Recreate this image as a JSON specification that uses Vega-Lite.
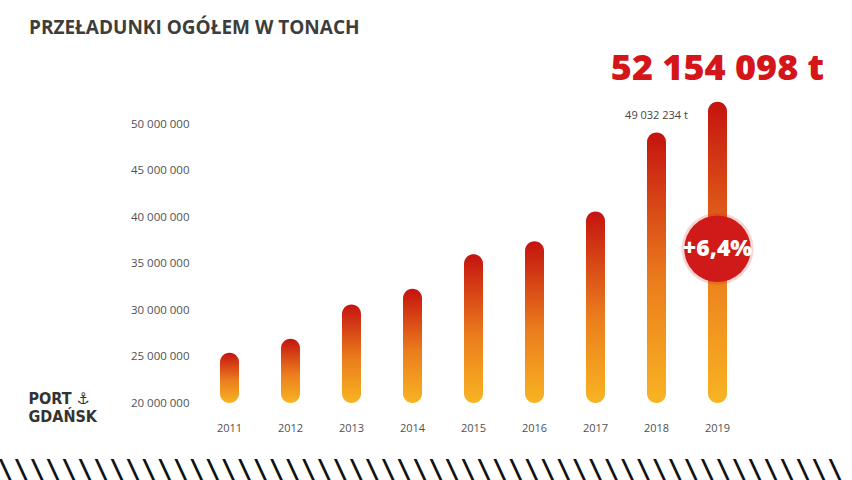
{
  "$schema": "https://vega.github.io/schema/vega-lite/v6.json",
  "width": 549,
  "height": 316,
  "autosize": {"type": "none"},
  "padding": {"left": 199, "top": 87, "right": 104, "bottom": 77},
  "background": "white",
  "config": {
    "view": {"stroke": null},
    "font": "Open Sans",
    "locale": {"number": {"decimal": ",", "thousands": " ", "grouping": [3], "currency": ["", " zł"]}}
  },
  "title": {
    "text": "PRZEŁADUNKI OGÓŁEM W TONACH",
    "anchor": "start",
    "frame": "group",
    "dx": -170,
    "offset": 13,
    "fontSize": 19,
    "fontWeight": "bold",
    "color": "#3d3d3d",
    "font": "Open Sans"
  },
  "data": {
    "values": [
      {"year": "2011", "tons": 25400000, "label": "", "change": ""},
      {"year": "2012", "tons": 26900000, "label": "", "change": ""},
      {"year": "2013", "tons": 30600000, "label": "", "change": ""},
      {"year": "2014", "tons": 32300000, "label": "", "change": ""},
      {"year": "2015", "tons": 36000000, "label": "", "change": ""},
      {"year": "2016", "tons": 37400000, "label": "", "change": ""},
      {"year": "2017", "tons": 40600000, "label": "", "change": ""},
      {"year": "2018", "tons": 49100000, "label": "49 032 234 t", "change": ""},
      {"year": "2019", "tons": 52400000, "label": "52 154 098 t", "change": "+6,4%"}
    ]
  },
  "encoding": {
    "x": {
      "field": "year",
      "type": "ordinal",
      "scale": {"paddingInner": 0, "paddingOuter": 0},
      "axis": {
        "labelAngle": 0,
        "ticks": false,
        "domain": false,
        "grid": false,
        "labelPadding": 19,
        "labelFontSize": 11,
        "labelColor": "#505050",
        "labelFont": "Open Sans",
        "title": ["PORT ⚓", "GDAŃSK"],
        "titleX": -171,
        "titleY": 0,
        "titleAlign": "left",
        "titleAnchor": null,
        "titleBaseline": "alphabetic",
        "titleFont": "DejaVu Sans Condensed",
        "titleFontSize": 16,
        "titleFontWeight": "bold",
        "titleColor": "#333333",
        "titleLineHeight": 18
      }
    },
    "y": {
      "field": "tons",
      "type": "quantitative",
      "scale": {"domain": [20000000, 54000000], "zero": false, "nice": false},
      "axis": {
        "values": [20000000, 25000000, 30000000, 35000000, 40000000, 45000000, 50000000],
        "format": ",d",
        "ticks": false,
        "domain": false,
        "grid": false,
        "labelPadding": 10,
        "labelFontSize": 11.5,
        "labelColor": "#505050",
        "labelFont": "Open Sans",
        "title": "\u005c\u005c\u005c\u005c\u005c\u005c\u005c\u005c\u005c\u005c\u005c\u005c\u005c\u005c\u005c\u005c\u005c\u005c\u005c\u005c\u005c\u005c\u005c\u005c\u005c\u005c\u005c\u005c\u005c\u005c\u005c\u005c\u005c\u005c\u005c\u005c\u005c\u005c\u005c\u005c\u005c\u005c\u005c\u005c\u005c\u005c\u005c\u005c\u005c\u005c\u005c\u005c\u005c",
        "titleAngle": 0,
        "titleX": -202,
        "titleY": 391,
        "titleAlign": "left",
        "titleAnchor": null,
        "titleBaseline": "alphabetic",
        "titleFont": "DejaVu Sans Mono",
        "titleFontSize": 26.5,
        "titleFontWeight": "bold",
        "titleColor": "#111111"
      }
    }
  },
  "layer": [
    {
      "mark": {
        "type": "bar",
        "size": 19,
        "cornerRadius": 9.5,
        "fill": {
          "gradient": "linear",
          "x1": 0, "y1": 1, "x2": 0, "y2": 0,
          "stops": [
            {"offset": 0, "color": "#f8b422"},
            {"offset": 0.45, "color": "#eb7d1d"},
            {"offset": 1, "color": "#c5130f"}
          ]
        }
      },
      "encoding": {
        "y2": {"datum": 20000000}
      }
    },
    {
      "transform": [{"filter": "datum.year == '2018'"}],
      "mark": {"type": "text", "baseline": "alphabetic", "dy": -14, "fontSize": 11, "color": "#444444", "font": "Open Sans"},
      "encoding": {"text": {"field": "label"}}
    },
    {
      "transform": [{"filter": "datum.year == '2019'"}],
      "mark": {"type": "text", "baseline": "alphabetic", "dy": -22, "fontSize": 36, "fontWeight": 800, "color": "#d4161b", "font": "Open Sans"},
      "encoding": {"text": {"field": "label"}}
    },
    {
      "transform": [{"filter": "datum.year == '2019'"}],
      "mark": {"type": "point", "shape": "circle", "filled": true, "size": 5200, "color": "#d01a1a", "opacity": 0.18},
      "encoding": {"y": {"datum": 36600000}}
    },
    {
      "transform": [{"filter": "datum.year == '2019'"}],
      "mark": {"type": "point", "shape": "circle", "filled": true, "size": 4420, "color": "#d01a1a", "opacity": 1},
      "encoding": {"y": {"datum": 36600000}}
    },
    {
      "transform": [{"filter": "datum.year == '2019'"}],
      "mark": {"type": "text", "baseline": "middle", "fontSize": 23, "fontWeight": 800, "color": "white", "font": "Open Sans"},
      "encoding": {"y": {"datum": 36600000}, "text": {"field": "change"}}
    }
  ]
}
